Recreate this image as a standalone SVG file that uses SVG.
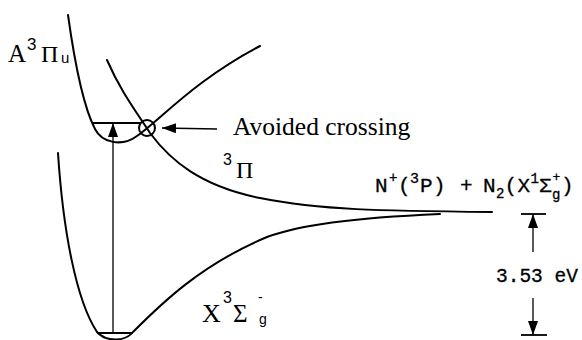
<svg xmlns="http://www.w3.org/2000/svg" width="582" height="340" viewBox="0 0 582 340">
<style>
.curve{fill:none;stroke:#000;stroke-width:2;stroke-linecap:round}
.thin{fill:none;stroke:#000;stroke-width:1.3}
.bar{fill:none;stroke:#000;stroke-width:1.8}
.serif{font-family:"Liberation Serif","Times New Roman",serif;fill:#000}
.sans{font-family:"Liberation Sans",Arial,sans-serif;fill:#000}
.mono{font-family:"Liberation Mono","DejaVu Sans Mono",monospace;fill:#000;stroke:#000;stroke-width:0.3}
</style>
<defs>
<marker id="ah" viewBox="0 0 14 10" refX="14" refY="5" markerWidth="14" markerHeight="10" markerUnits="userSpaceOnUse" orient="auto">
<path d="M0,0 L14,5 L0,10 z" fill="#000"/>
</marker>
</defs>
<rect width="582" height="340" fill="#fff"/>
<g id="curves">
<path id="curve-A" class="curve" d="M68,15 C75,65 84,108 95,129 C102,143 122,147 137,136 C160,120 195,80 260,46"/>
<path id="curve-3Pi" class="curve" d="M107,60 C120,90 135,110 150,133 C170,160 200,186 260,198 C320,210 380,211 492,212"/>
<path id="curve-X" class="curve" d="M58,153 C63,230 76,300 97,332 C106,342 125,342 133,332 C160,305 200,265 267,237 C300,225 350,218 440,214"/>
<line class="bar" x1="93" y1="123" x2="141" y2="123"/>
<line class="bar" x1="97" y1="333" x2="133" y2="333"/>
<circle cx="147" cy="128" r="8" fill="none" stroke="#000" stroke-width="2"/>
</g>
<g id="connectors">
<line class="thin" x1="113" y1="333" x2="113" y2="123" marker-end="url(#ah)"/>
<line class="thin" x1="217" y1="129" x2="162" y2="128" marker-end="url(#ah)"/>
<line class="thin" x1="533" y1="252" x2="533" y2="214" marker-end="url(#ah)"/>
<line class="thin" x1="533" y1="298" x2="533" y2="335" marker-end="url(#ah)"/>
<line class="bar" x1="521" y1="214" x2="546" y2="214"/>
<line class="bar" x1="521" y1="335" x2="547" y2="335"/>
</g>
<g id="label-A">
<text class="serif" x="8" y="62" font-size="25">A</text>
<text class="sans" x="27" y="50" font-size="17">3</text>
<text class="serif" x="41" y="62" font-size="24">Π</text>
<text class="sans" x="61" y="63" font-size="15">u</text>
</g>
<g id="label-avoided">
<text class="serif" x="233" y="135" font-size="25.5">Avoided crossing</text>
</g>
<g id="label-3Pi">
<text class="sans" x="223" y="165" font-size="16">3</text>
<text class="serif" x="236" y="178" font-size="24">Π</text>
</g>
<g id="label-X">
<text class="serif" x="202" y="322" font-size="26">X</text>
<text class="sans" x="223" y="303" font-size="16">3</text>
<text class="serif" x="233" y="322" font-size="25">Σ</text>
<text class="sans" x="258" y="302" font-size="14">-</text>
<text class="sans" x="259" y="324" font-size="14">g</text>
</g>
<g id="label-asymptote">
<text class="mono" x="375" y="192" font-size="21">N</text>
<text class="mono" x="389" y="182" font-size="14">+</text>
<text class="mono" x="398" y="192" font-size="21">(</text>
<text class="mono" x="410" y="183" font-size="15">3</text>
<text class="mono" x="420" y="192" font-size="21">P</text>
<text class="mono" x="433" y="192" font-size="21">)</text>
<text class="mono" x="460" y="192" font-size="21">+</text>
<text class="mono" x="483" y="192" font-size="21">N</text>
<text class="mono" x="496" y="198" font-size="14">2</text>
<text class="mono" x="504.5" y="192" font-size="21">(</text>
<text class="mono" x="517.5" y="192" font-size="21">X</text>
<text class="mono" x="530.5" y="183" font-size="14">1</text>
<text class="mono" x="539" y="192" font-size="21">Σ</text>
<text class="mono" x="552.5" y="181" font-size="13">+</text>
<text class="mono" x="552" y="199" font-size="14">g</text>
<text class="mono" x="561" y="192" font-size="21">)</text>
</g>
<g id="label-energy">
<text class="mono" x="496" y="282" font-size="19.5">3.53 eV</text>
</g>
</svg>
